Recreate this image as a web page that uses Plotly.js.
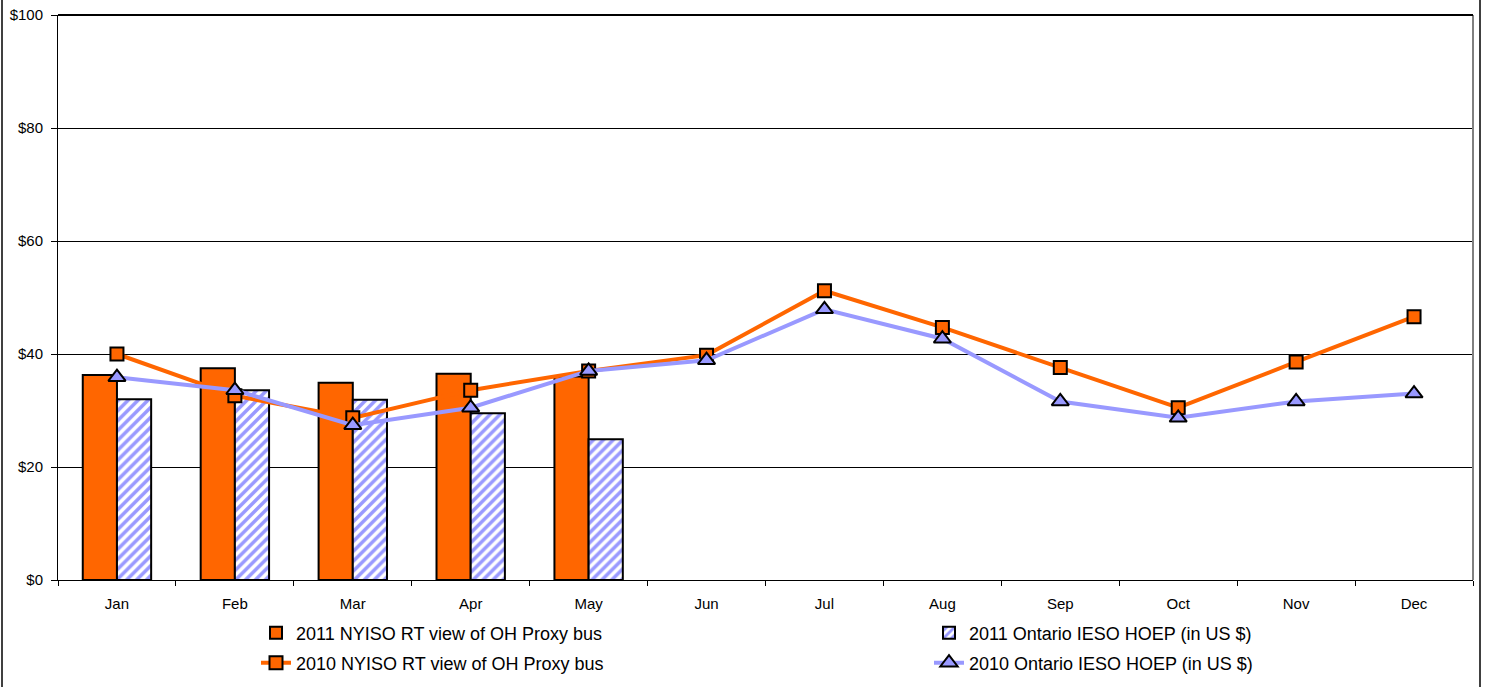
<!DOCTYPE html>
<html>
<head>
<meta charset="utf-8">
<script src="https://cdn.plot.ly/plotly-3.0.1.min.js"></script>
<style>
  html, body { margin: 0; padding: 0; background: #ffffff; }
  #chart { width: 1485px; height: 687px; }
</style>
</head>
<body>
<div id="chart"></div>
<script>
const months = ["Jan","Feb","Mar","Apr","May","Jun","Jul","Aug","Sep","Oct","Nov","Dec"];
const nyiso2011 = [36.3, 37.5, 34.9, 36.5, 36.0];
const ieso2011 = [32.0, 33.6, 31.9, 29.5, 24.9];
const nyiso2010 = [40.0, 32.6, 28.7, 33.6, 37.0, 39.8, 51.2, 44.7, 37.6, 30.5, 38.6, 46.6];
const ieso2010 = [35.9, 33.6, 27.4, 30.5, 37.0, 38.9, 47.9, 42.7, 31.6, 28.7, 31.6, 33.0];
const yTicks = [0, 20, 40, 60, 80, 100];
const yTickText = ["$0", "$20", "$40", "$60", "$80", "$100"];

const names = [
  "2011 NYISO RT view of OH Proxy bus",
  "2011 Ontario IESO HOEP (in US $)",
  "2010 NYISO RT view of OH Proxy bus",
  "2010 Ontario IESO HOEP (in US $)"
];

const ORANGE = "#FF6600";
const LAV = "#9999FF";

const traces = [
  {
    type: "bar", name: names[0], x: months.slice(0, nyiso2011.length), y: nyiso2011,
    marker: { color: ORANGE, line: { color: "#000000", width: 2 } },
    legend: "legend", hoverinfo: "y"
  },
  {
    type: "bar", name: names[1], x: months.slice(0, ieso2011.length), y: ieso2011,
    marker: { color: "#ffffff", line: { color: "#000000", width: 2 },
      pattern: { shape: "/", fgcolor: LAV, bgcolor: "#ffffff", size: 7, solidity: 0.5 } },
    legend: "legend2", hoverinfo: "y"
  },
  {
    type: "scatter", mode: "lines+markers", name: names[2], x: months, y: nyiso2010,
    line: { color: ORANGE, width: 4 },
    marker: { symbol: "square", size: 13, color: ORANGE, line: { color: "#000000", width: 2 } },
    legend: "legend3", hoverinfo: "y"
  },
  {
    type: "scatter", mode: "lines+markers", name: names[3], x: months, y: ieso2010,
    line: { color: LAV, width: 4 },
    marker: { symbol: "triangle-up", size: 15, color: LAV, line: { color: "#000000", width: 2 } },
    legend: "legend4", hoverinfo: "y"
  }
];

const W = 1485, H = 687;
const L = 58, R = 1473, T = 15, B = 580;
const pw = R - L, ph = B - T;
const px2x = p => (p - L) / pw;
const py2y = p => (B - p) / ph;

const legendCommon = {
  orientation: "v",
  xanchor: "left", yanchor: "middle",
  font: { family: "Liberation Sans, Arial, sans-serif", size: 18, color: "#000000" },
  bgcolor: "rgba(0,0,0,0)", borderwidth: 0,
  itemclick: false, itemdoubleclick: false,
  tracegroupgap: 0
};
const col1 = 256, col2 = 929, row1 = 633, row2 = 663;

const layout = {
  width: W, height: H,
  margin: { l: L, r: W - R, t: T, b: H - B, pad: 0, autoexpand: false },
  paper_bgcolor: "#ffffff",
  plot_bgcolor: "#ffffff",
  font: { family: "Liberation Sans, Arial, sans-serif", size: 15, color: "#000000" },
  barmode: "group",
  bargap: 0.42,
  bargroupgap: 0,
  showlegend: true,
  legend: Object.assign({}, legendCommon, { x: px2x(col1), y: py2y(row1) }),
  legend2: Object.assign({}, legendCommon, { x: px2x(col2), y: py2y(row1) }),
  legend3: Object.assign({}, legendCommon, { x: px2x(col1), y: py2y(row2) }),
  legend4: Object.assign({}, legendCommon, { x: px2x(col2), y: py2y(row2) }),
  xaxis: {
    type: "category",
    categoryorder: "array", categoryarray: months,
    range: [-0.5, 11.5],
    showline: true, linecolor: "#000000", linewidth: 1,
    ticks: "outside", tickson: "boundaries", ticklen: 5, tickcolor: "#000000",
    ticklabelstandoff: 10,
    showgrid: false, zeroline: false,
    tickfont: { size: 15 }
  },
  yaxis: {
    range: [0, 100],
    tickvals: yTicks, ticktext: yTickText,
    showline: true, linecolor: "#000000", linewidth: 1,
    ticks: "outside", ticklen: 6, tickcolor: "#000000",
    ticklabelstandoff: 5,
    showgrid: true, gridcolor: "#000000", gridwidth: 1,
    zeroline: false,
    tickfont: { size: 15 }
  },
  shapes: [
    { type: "line", xref: "paper", yref: "paper", x0: 1, x1: 1, y0: 0, y1: 1,
      line: { color: "#808080", width: 2 } },
    { type: "line", xref: "paper", yref: "paper", x0: 0, x1: 1, y0: 1, y1: 1,
      line: { color: "#000000", width: 2 } },
    { type: "line", xref: "paper", yref: "paper", x0: px2x(2), x1: px2x(2), y0: py2y(-10), y1: py2y(700),
      line: { color: "#000000", width: 1.5 } },
    { type: "line", xref: "paper", yref: "paper", x0: px2x(1480), x1: px2x(1480), y0: py2y(-10), y1: py2y(700),
      line: { color: "#000000", width: 1.5 } }
  ]
};

Plotly.newPlot("chart", traces, layout, { displayModeBar: false, staticPlot: true });
</script>
</body>
</html>
